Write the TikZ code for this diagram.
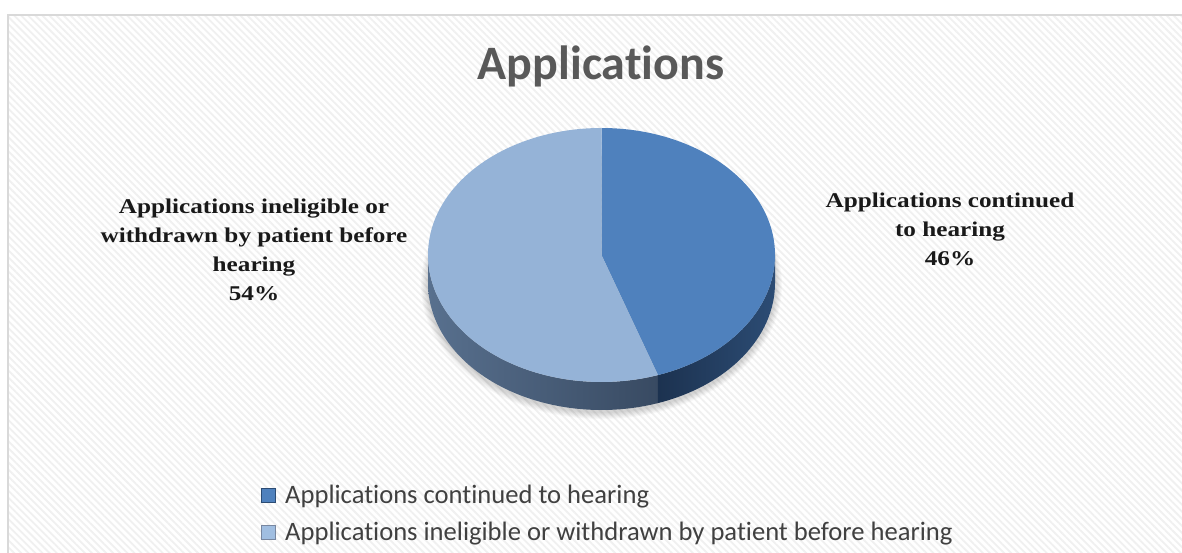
\documentclass[tikz,border=0pt]{standalone}
\usepackage{fontspec}
\setmainfont{Liberation Serif}
\newfontfamily\lblfont[FakeStretch=1.2]{Liberation Serif}
\newfontfamily\calib[Ligatures=NoCommon]{Carlito}
\usetikzlibrary{patterns.meta}
\definecolor{darkslice}{HTML}{4F81BD}
\definecolor{lightslice}{HTML}{95B3D7}
\definecolor{titlegray}{HTML}{595959}
\definecolor{leggray}{HTML}{404040}
\tikzset{
  labeltext/.style={align=center, font=\lblfont\bfseries\fontsize{21}{29}\selectfont, text=black!90, inner sep=0pt},
  legtext/.style={anchor=base west, font=\calib\fontsize{26.6}{30}\selectfont, text=leggray, inner sep=0pt},
  legbox/.style={minimum size=14pt, inner sep=0pt, line width=0.8pt},
}
\begin{document}
\begin{tikzpicture}[x=1pt,y=-1pt]
\useasboundingbox (0,0) rectangle (1182,553);
\fill[white] (0,0) rectangle (1182,553);
\fill[pattern={Lines[angle=-45,distance=5pt,line width=1.8pt]}, pattern color=black!6] (8,15) rectangle (1182,553);
\draw[line width=2pt, black!15] (1182,15) -- (8,15) -- (8,553);

% title
\node[anchor=base, font=\calib\bfseries\fontsize{48}{52}\selectfont, text=titlegray, inner sep=0pt] (title) at (601,80) {Applications};

% pie
\begin{scope}[shift={(601.5,255)}, y=1pt]
  \foreach \i in {1,...,7}{
    \fill[black, opacity=0.025] (0,-30) ellipse[x radius=173.5+\i, y radius=127+\i];
  }
  % sides
  \shade[left color={rgb,255:red,88;green,112;blue,142}, right color={rgb,255:red,56;green,74;blue,98}]
    (-173.5,0) arc[start angle=180, end angle=289, x radius=173.5, y radius=127]
    -- ++(0,-28) arc[start angle=289, end angle=180, x radius=173.5, y radius=127] -- cycle;
  \shade[left color={rgb,255:red,28;green,50;blue,80}, right color={rgb,255:red,44;green,76;blue,116}]
    (289:173.5 and 127) arc[start angle=289, end angle=360, x radius=173.5, y radius=127]
    -- ++(0,-28) arc[start angle=360, end angle=289, x radius=173.5, y radius=127] -- cycle;
  % top faces
  \fill[darkslice] (0,0) -- (0,127) arc[start angle=90, end angle=-71, x radius=173.5, y radius=127] -- cycle;
  \fill[lightslice] (0,0) -- (0,127) arc[start angle=90, end angle=289, x radius=173.5, y radius=127] -- cycle;
\end{scope}

% data labels
\node[labeltext] (lblright) at (950,229) {Applications continued\\to hearing\\46\%};
\node[labeltext] (lblleft) at (254,250) {Applications ineligible or\\withdrawn by patient before\\hearing\\54\%};

% legend
\node[legbox, fill=darkslice, draw={rgb,255:red,44;green,76;blue,116}] (sq1) at (268,495) {};
\node[legbox, fill={rgb,255:red,160;green,190;blue,225}, draw={rgb,255:red,120;green,135;blue,160}] (sq2) at (268,532) {};
\node[legtext] (leg1) at (285,503) {Applications continued to hearing};
\node[legtext] (leg2) at (285,540) {Applications ineligible or withdrawn by patient before hearing};
\end{tikzpicture}
\end{document}
